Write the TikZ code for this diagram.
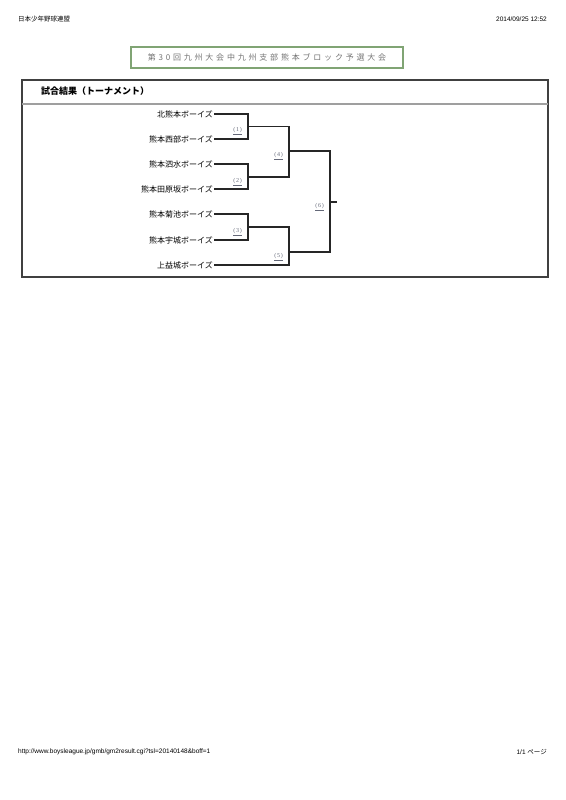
\documentclass[tikz,border=0pt]{standalone}
\usepackage{fontspec}
\setmainfont{Liberation Sans}
\newfontfamily\jpfont{Noto Sans CJK JP}
\newfontfamily\jpspaced{Noto Sans CJK JP}[LetterSpace=35]
\newfontfamily\numfont{Liberation Serif}[LetterSpace=12]
\usetikzlibrary{positioning}
\definecolor{framegreen}{RGB}{128,164,116}
\definecolor{labelgray}{RGB}{100,104,120}

\begin{document}
\begin{tikzpicture}[
  x=1pt, y=-1pt,
  every node/.style={inner sep=1pt},
  pagetext/.style={font=\fontsize{6.5}{7}\selectfont},
  titlebox/.style={rectangle, draw=framegreen, line width=1.5pt, minimum width=272pt, minimum height=21pt, text=black!55, font=\jpspaced\fontsize{8}{9}\selectfont},
  sheethead/.style={anchor=west, font=\jpfont\bfseries\fontsize{9}{10}\selectfont},
  team/.style={anchor=east, font=\jpfont\fontsize{8}{9}\selectfont},
  gamelabel/.style={font=\numfont\fontsize{6}{7}\selectfont, text=labelgray},
  bracket/.style={draw=black!85, line width=1.2pt},
  sheet/.style={draw=black!75, line width=1.5pt}
]
  \useasboundingbox (0,0) rectangle (565,800);

  % page header and footer
  \node[pagetext, anchor=west] (org) at (17,19) {\jpfont 日本少年野球連盟};
  \node[pagetext, anchor=east] (stamp) at (548,19) {2014/09/25 12:52};
  \node[pagetext, anchor=west] (url) at (17,752) {http://www.boysleague.jp/gmb/gm2result.cgi?tsl=20140148\&boff=1};
  \node[pagetext, anchor=east] (pageno) at (548,752) {1/1 {\jpfont ページ}};

  % title
  \node[titlebox] (title) at (267,57.5) {第30回九州大会中九州支部熊本ブロック予選大会};

  % result sheet
  \draw[sheet] (22,80) rectangle (548,277);
  \draw[draw=gray!75, line width=1.2pt] (22,104) -- (548,104);
  \node[sheethead] (head) at (40,91) {試合結果（トーナメント）};

  % teams
  \node[team] (t1) at (214,114) {北熊本ボーイズ};
  \node[team] (t2) at (214,139) {熊本西部ボーイズ};
  \node[team] (t3) at (214,164) {熊本泗水ボーイズ};
  \node[team] (t4) at (214,189) {熊本田原坂ボーイズ};
  \node[team] (t5) at (214,214) {熊本菊池ボーイズ};
  \node[team] (t6) at (214,240) {熊本宇城ボーイズ};
  \node[team] (t7) at (214,265) {上益城ボーイズ};

  % bracket points
  \coordinate (m1) at (248,126.5);
  \coordinate (m2) at (248,177);
  \coordinate (m3) at (248,227);
  \coordinate (m4) at (289,151);
  \coordinate (m5) at (289,252);
  \coordinate (m6) at (330,202);
  \coordinate (win) at (337,202);

  \draw[bracket] (t1.east) -| (m1) |- (t2.east);
  \draw[bracket] (t3.east) -| (m2) |- (t4.east);
  \draw[bracket] (t5.east) -| (m3) |- (t6.east);
  \draw[bracket] (m1) -| (m4) |- (m2);
  \draw[bracket] (m3) -| (t7.east -| m5) -- (t7.east);
  \draw[bracket] (m4) -| (m6) |- (m5);
  \draw[bracket] (m6) -- (win);

  % game numbers
  \node[gamelabel, below left=0pt and 5pt of m1] (g1) {\underline{(1)}};
  \node[gamelabel, below left=0pt and 5pt of m2] (g2) {\underline{(2)}};
  \node[gamelabel, below left=0pt and 5pt of m3] (g3) {\underline{(3)}};
  \node[gamelabel, below left=0pt and 5pt of m4] (g4) {\underline{(4)}};
  \node[gamelabel, below left=0pt and 5pt of m5] (g5) {\underline{(5)}};
  \node[gamelabel, below left=0pt and 5pt of m6] (g6) {\underline{(6)}};
\end{tikzpicture}
\end{document}
